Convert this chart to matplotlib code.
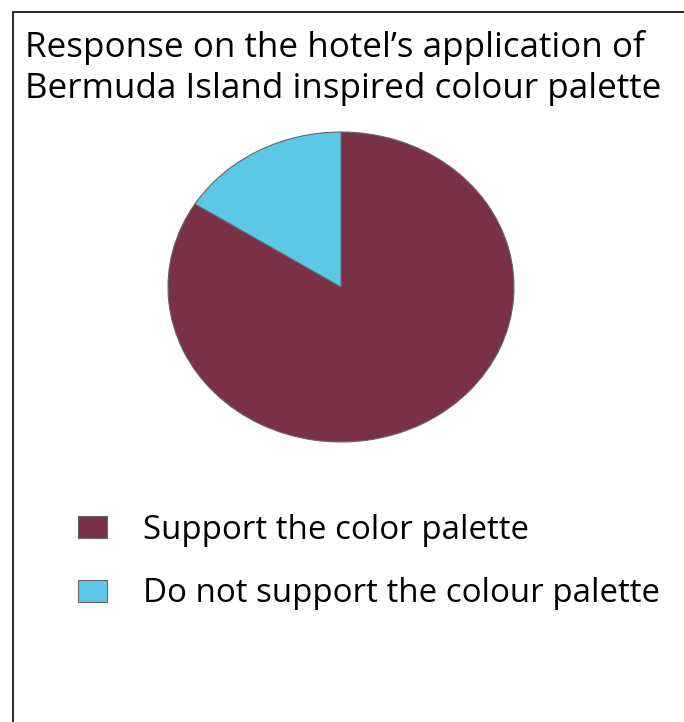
import matplotlib
matplotlib.use('Agg')
import matplotlib.pyplot as plt
from matplotlib.patches import Rectangle

title_lines = ['Response on the hotel\u2019s application of',
               'Bermuda Island inspired colour palette']
labels = ['Support the color palette', 'Do not support the colour palette']
values = [84, 16]
colors = ['#7a3046', '#5bc9e5']

plt.rcParams['font.family'] = ['Open Sans', 'DejaVu Sans']

fig = plt.figure(figsize=(6.84, 7.22), dpi=100)
W, H = 684, 722

# frame around the chart (only top and left edges fall inside the image)
fig.patches.append(Rectangle((13 / W, -0.1), 1.2, 1 - 12 / H + 0.1, transform=fig.transFigure,
                             fill=False, edgecolor='black', linewidth=1.2))

for i, line in enumerate(title_lines):
    fig.text(25 / W, 1 - (57 + 41 * i) / H, line, fontsize=25.2, ha='left',
             va='baseline', color='black')

# pie is an ellipse in the reference: stretch it via axes size
ax = fig.add_axes([168 / W, 1 - 442 / H, 346 / W, 310 / H])
wedges, _ = ax.pie(values, colors=colors, startangle=90, counterclock=False,
                   wedgeprops=dict(edgecolor='#666666', linewidth=0.8))
ax.set_aspect('auto')
ax.set_xlim(-1, 1)
ax.set_ylim(-1, 1)
ax.axis('off')

fig.legend(wedges, labels, loc='upper left', bbox_to_anchor=(78 / W, 1 - 514 / H),
           frameon=False, fontsize=23.8, handlelength=0.88, handleheight=0.64,
           handletextpad=1.09, labelspacing=0.92, borderpad=0, borderaxespad=0)

fig.savefig('out.png', dpi=100)
